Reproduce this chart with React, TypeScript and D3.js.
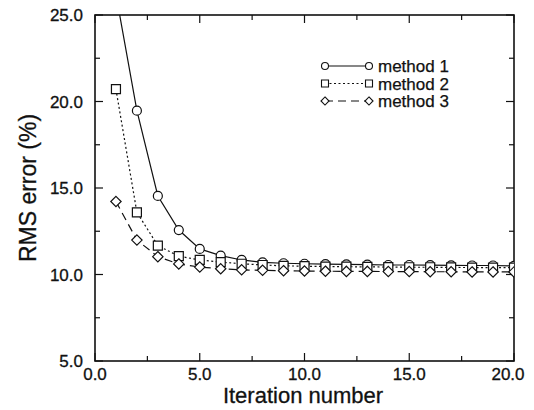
import React, { useEffect, useRef } from "react";
import * as d3 from "d3";

const iterations = [1, 2, 3, 4, 5, 6, 7, 8, 9, 10, 11, 12, 13, 14, 15, 16, 17, 18, 19, 20];
const method1 = [26.2, 19.47, 14.54, 12.57, 11.48, 11.09, 10.84, 10.7, 10.65, 10.62, 10.6, 10.58, 10.57, 10.55, 10.55, 10.54, 10.53, 10.52, 10.52, 10.5];
const method2 = [20.71, 13.59, 11.67, 11.06, 10.84, 10.72, 10.62, 10.55, 10.5, 10.48, 10.46, 10.45, 10.44, 10.43, 10.42, 10.42, 10.41, 10.4, 10.4, 10.4];
const method3 = [14.22, 11.99, 11.03, 10.61, 10.43, 10.33, 10.27, 10.24, 10.22, 10.2, 10.19, 10.18, 10.18, 10.17, 10.17, 10.16, 10.16, 10.15, 10.15, 10.15];
const seriesNames = ["method 1", "method 2", "method 3"];
const xTicks = [0, 5, 10, 15, 20];
const yTicks = [5, 10, 15, 20, 25];

const W = 534;
const H = 410;
const m = { left: 95, right: 20, top: 15, bottom: 49 };

// rotated square, a bit wider than d3's diamond
const diamond = (s: number) => `M0,${-s}L${s},0L0,${s}L${-s},0Z`;

const App = () => {
  const ref = useRef<SVGSVGElement>(null);

  useEffect(() => {
    const svg = d3.select(ref.current);
    svg.selectAll("*").remove();

    const x = d3.scaleLinear().domain([0, 20]).range([m.left, W - m.right]);
    const y = d3.scaleLinear().domain([5, 25]).range([H - m.bottom, m.top]);
    const font = "'Liberation Sans', Arial, Helvetica, sans-serif";

    svg.append("defs").append("clipPath").attr("id", "plotclip")
      .append("rect")
      .attr("x", x(0)).attr("y", y(25))
      .attr("width", x(20) - x(0)).attr("height", y(5) - y(25));

    // minor + major ticks, pointing inward on all four sides
    const minor = d3.range(0, 20.01, 2.5);
    const minorY = d3.range(5, 25.01, 2.5);
    const tg = svg.append("g").attr("stroke", "#111").attr("stroke-width", 1.2);
    minor.forEach((v) => {
      const len = v % 5 === 0 ? 8 : 5;
      tg.append("line").attr("x1", x(v)).attr("x2", x(v)).attr("y1", y(5)).attr("y2", y(5) - len);
      tg.append("line").attr("x1", x(v)).attr("x2", x(v)).attr("y1", y(25)).attr("y2", y(25) + len);
    });
    minorY.forEach((v) => {
      const len = v % 5 === 0 ? 8 : 5;
      tg.append("line").attr("x1", x(0)).attr("x2", x(0) + len).attr("y1", y(v)).attr("y2", y(v));
      tg.append("line").attr("x1", x(20)).attr("x2", x(20) - len).attr("y1", y(v)).attr("y2", y(v));
    });

    svg.append("rect")
      .attr("x", x(0)).attr("y", y(25))
      .attr("width", x(20) - x(0)).attr("height", y(5) - y(25))
      .attr("fill", "none").attr("stroke", "#111").attr("stroke-width", 1.6);

    // tick labels
    svg.append("g").selectAll("text").data(xTicks).join("text")
      .attr("x", (d) => x(d) - (d === 20 ? 6 : 0))
      .attr("y", y(5) + 19)
      .attr("text-anchor", "middle")
      .attr("font-family", font).attr("font-size", 17).attr("fill", "#111")
      .attr("stroke", "#111").attr("stroke-width", 0.3)
      .text((d) => d.toFixed(1));
    svg.append("g").selectAll("text").data(yTicks).join("text")
      .attr("x", x(0) - 12)
      .attr("y", (d) => y(d) + 6)
      .attr("text-anchor", "end")
      .attr("font-family", font).attr("font-size", 17).attr("fill", "#111")
      .attr("stroke", "#111").attr("stroke-width", 0.3)
      .text((d) => d.toFixed(1));

    // axis titles
    svg.append("text")
      .attr("x", 303).attr("y", 403)
      .attr("text-anchor", "middle")
      .attr("font-family", font).attr("font-size", 22).attr("fill", "#111")
      .attr("stroke", "#111").attr("stroke-width", 0.3)
      .text("Iteration number");
    svg.append("text")
      .attr("transform", `translate(36,${(y(5) + y(25)) / 2}) rotate(-90)`)
      .attr("text-anchor", "middle")
      .attr("font-family", font).attr("font-size", 23).attr("fill", "#111")
      .attr("stroke", "#111").attr("stroke-width", 0.3)
      .text("RMS error (%)");

    const all = [method1, method2, method3];
    const dashes = [null, "2,2.5", "8,5"];
    const shapes = [
      (s: number) => d3.symbol().type(d3.symbolCircle).size(Math.PI * s * s)(),
      (s: number) => d3.symbol().type(d3.symbolSquare).size(4 * s * s)(),
      (s: number) => diamond(s * 1.15),
    ];

    const plot = svg.append("g").attr("clip-path", "url(#plotclip)");
    const ln = d3.line<number>().x((d, i) => x(iterations[i])).y((d) => y(d));

    all.forEach((vals, k) => {
      plot.append("path")
        .attr("d", ln(vals))
        .attr("fill", "none").attr("stroke", "#111").attr("stroke-width", 1.2)
        .attr("stroke-dasharray", dashes[k]);
    });
    all.forEach((vals, k) => {
      plot.append("g").selectAll("path").data(vals).join("path")
        .attr("transform", (d, i) => `translate(${x(iterations[i])},${y(d)})`)
        .attr("d", shapes[k](4.5))
        .attr("fill", "white").attr("stroke", "#111").attr("stroke-width", 1.2);
    });

    // legend
    const lg = svg.append("g");
    seriesNames.forEach((name, k) => {
      const ly = 66 + k * 17.5;
      lg.append("line")
        .attr("x1", 325).attr("x2", 369).attr("y1", ly).attr("y2", ly)
        .attr("stroke", "#111").attr("stroke-width", 1.2)
        .attr("stroke-dasharray", dashes[k]);
      [325, 369].forEach((lx) => {
        lg.append("path")
          .attr("transform", `translate(${lx},${ly})`)
          .attr("d", shapes[k](3.5))
          .attr("fill", "white").attr("stroke", "#111").attr("stroke-width", 1.1);
      });
      lg.append("text")
        .attr("x", 378).attr("y", ly + 6)
        .attr("font-family", font).attr("font-size", 17).attr("fill", "#111")
        .attr("stroke", "#111").attr("stroke-width", 0.25)
        .text(name);
    });
  }, []);

  return (
    <svg
      ref={ref}
      width={W}
      height={H}
      style={{ position: "absolute", left: 0, top: 0, background: "white" }}
    />
  );
};

export default App;
